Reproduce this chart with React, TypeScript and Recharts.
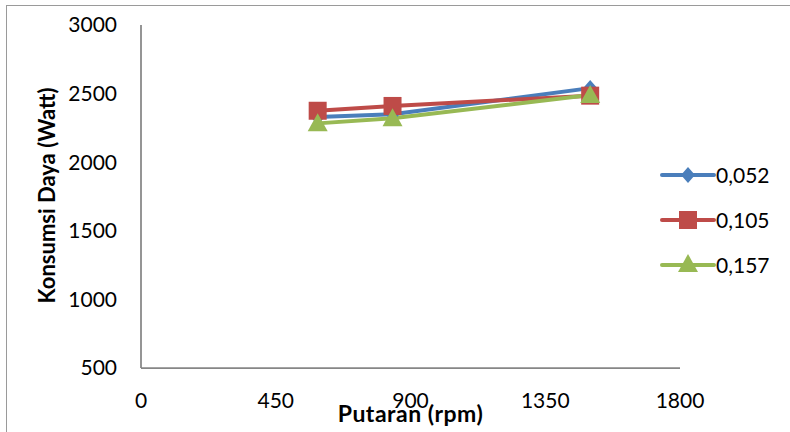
import React from "react";
import { LineChart, Line, XAxis, YAxis, Legend } from "recharts";

const rpm = [590, 840, 1500];
const seriesNames = ["0,052", "0,105", "0,157"];
const s052 = [2330, 2350, 2540];
const s105 = [2375, 2410, 2485];
const s157 = [2283, 2320, 2490];
const xTicks = [0, 450, 900, 1350, 1800];
const yTicks = [500, 1000, 1500, 2000, 2500, 3000];

const colors = ["#4A7EBB", "#BE4B48", "#98B954"];
const shapes = ["diamond", "square", "triangle"];

const data = rpm.map((r, i) => ({ rpm: r, a: s052[i], b: s105[i], c: s157[i] }));

const FONT = "Lato, 'Open Sans', sans-serif";

function markerPath(shape: string, cx: number, cy: number) {
  if (shape === "diamond") return `M${cx},${cy - 8}L${cx + 7},${cy}L${cx},${cy + 8}L${cx - 7},${cy}Z`;
  if (shape === "square") return `M${cx - 9},${cy - 9}H${cx + 9}V${cy + 9}H${cx - 9}Z`;
  return `M${cx},${cy - 10}L${cx + 10},${cy + 8}L${cx - 10},${cy + 8}Z`;
}

const makeDot = (shape: string, color: string) => (props: any) => {
  const { cx, cy, index } = props;
  if (cx == null || cy == null) return <g key={`d-${index}`} />;
  return <path key={`d-${shape}-${index}`} d={markerPath(shape, cx, cy)} fill={color} stroke="none" />;
};

const LegendContent = () => (
  <div style={{ fontFamily: FONT, fontSize: 21, color: "#000" }}>
    {seriesNames.map((n, i) => (
      <div key={n} style={{ display: "flex", alignItems: "center", height: 45 }}>
        <svg width={56} height={24} style={{ display: "block" }}>
          <line x1={2} y1={12} x2={54} y2={12} stroke={colors[i]} strokeWidth={4} strokeLinecap="round" />
          <path d={markerPath(shapes[i], 28, shapes[i] === "triangle" ? 11 : 12)} fill={colors[i]} />
        </svg>
        <span style={{ marginLeft: 0 }}>{n}</span>
      </div>
    ))}
  </div>
);

export default function App() {
  return (
    <div style={{ position: "absolute", left: 0, top: 0, width: 790, height: 432, overflow: "hidden", background: "#fff" }}>
      <div style={{ position: "absolute", left: 6, top: 5, width: 820, height: 460, border: "1.5px solid #9a9a9a" }} />
      <div style={{ position: "absolute", left: 0, top: 0 }}>
        <LineChart width={790} height={432} data={data} margin={{ top: 25, right: 110, bottom: 0, left: 0 }}>
          <XAxis
            dataKey="rpm"
            type="number"
            domain={[0, 1800]}
            ticks={xTicks}
            interval={0}
            height={64}
            tickLine={false}
            tickSize={0}
            tickMargin={25}
            axisLine={{ stroke: "#868686", strokeWidth: 1.75 }}
            tick={{ fill: "#000", fontSize: 21, fontFamily: FONT }}
            label={{
              content: (p: any) => {
                const vb = p.viewBox;
                return (
                  <text x={vb.x + vb.width / 2} y={422} textAnchor="middle" fontFamily={FONT} fontWeight="bold" fontSize={23} letterSpacing={0.5} fill="#000">
                    Putaran (rpm)
                  </text>
                );
              },
            }}
          />
          <YAxis
            type="number"
            domain={[500, 3000]}
            ticks={yTicks}
            interval={0}
            width={141}
            tickLine={false}
            tickSize={0}
            tickMargin={24}
            axisLine={{ stroke: "#868686", strokeWidth: 1.75 }}
            tick={{ fill: "#000", fontSize: 21, fontFamily: FONT }}
            label={{
              content: (p: any) => {
                const vb = p.viewBox;
                const cy = vb.y + vb.height / 2 - 1;
                return (
                  <text x={46} y={cy} transform={`rotate(-90 46 ${cy})`} textAnchor="middle" dominantBaseline="central" fontFamily={FONT} fontWeight="bold" fontSize={22} fill="#000">
                    Konsumsi Daya (Watt)
                  </text>
                );
              },
            }}
          />
          <Legend layout="vertical" align="center" verticalAlign="middle" wrapperStyle={{ left: 660, top: 152, width: 130 }} content={<LegendContent />} />
          <Line dataKey="a" name={seriesNames[0]} stroke={colors[0]} strokeWidth={4} dot={makeDot(shapes[0], colors[0])} activeDot={false} isAnimationActive={false} />
          <Line dataKey="b" name={seriesNames[1]} stroke={colors[1]} strokeWidth={4} dot={makeDot(shapes[1], colors[1])} activeDot={false} isAnimationActive={false} />
          <Line dataKey="c" name={seriesNames[2]} stroke={colors[2]} strokeWidth={4} dot={makeDot(shapes[2], colors[2])} activeDot={false} isAnimationActive={false} />
        </LineChart>
      </div>
    </div>
  );
}
